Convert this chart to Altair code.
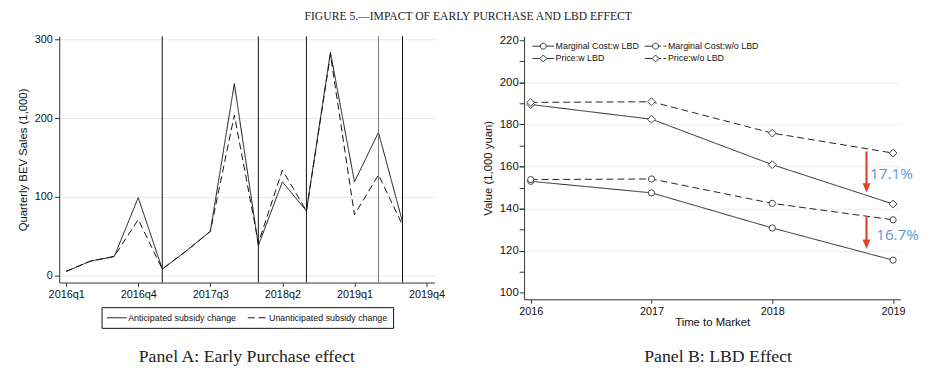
import altair as alt
import pandas as pd

# ---------------- Panel A data ----------------
quarters = ["2016q1", "2016q2", "2016q3", "2016q4", "2017q1", "2017q2", "2017q3",
            "2017q4", "2018q1", "2018q2", "2018q3", "2018q4", "2019q1", "2019q2", "2019q3"]
anticipated = [5, 18, 24, 99, 8, 31, 56, 244, 38, 119, 82, 284, 119, 182, 68]
unanticipated = [5, 18, 24, 71, 8, 31, 56, 204, 41, 134, 82, 281, 77, 128, 64]
series_a = ["Anticipated subsidy change", "Unanticipated subsidy change"]
policy_quarters = ["2017q1", "2018q1", "2018q3", "2019q2", "2019q3"]
policy_colors = ["#111111", "#111111", "#111111", "#777777", "#111111"]
x_tick_labels_a = ["2016q1", "2016q4", "2017q3", "2018q2", "2019q1", "2019q4"]
y_ticks_a = [0, 100, 200, 300]

# ---------------- Panel B data ----------------
years = [2016, 2017, 2018, 2019]
mc_w = [153.0, 147.5, 130.8, 115.5]
mc_wo = [153.8, 154.1, 142.5, 134.7]
price_w = [189.5, 182.5, 160.9, 142.2]
price_wo = [190.5, 190.8, 175.9, 166.4]
series_b = ["Marginal Cost:w LBD", "Marginal Cost:w/o LBD", "Price:w LBD", "Price:w/o LBD"]
y_major_b = [100, 120, 140, 160, 180, 200, 220]
y_minor_b = [110, 120, 130, 140, 150, 160, 170, 180, 190, 200, 210]

arrow_year = [2018.78, 2018.78]
arrow_top = [167.2, 136.2]
arrow_tip = [147.6, 120.8]
pct_labels = ["17.1%", "16.7%"]
pct_year = [2018.81, 2018.86]
pct_value = [156.2, 127.3]

FIG_TITLE = "FIGURE 5.\u2014IMPACT OF EARLY PURCHASE AND LBD EFFECT"
CAP_A = "Panel A: Early Purchase effect"
CAP_B = "Panel B: LBD Effect"


def js_list(items):
    return "[" + ",".join("'" + s + "'" for s in items) + "]"


# ---------------- Panel A ----------------
n = len(quarters)
df_a = pd.DataFrame({
    "q": list(range(n)) * 2,
    "quarter": quarters * 2,
    "sales": anticipated + unanticipated,
    "series": [series_a[0]] * n + [series_a[1]] * n,
})
df_rules = pd.DataFrame({"q": [quarters.index(p) for p in policy_quarters],
                         "shade": policy_colors})

tick_pos = [3 * i for i in range(len(x_tick_labels_a))]
xa = alt.X("q:Q", title=None,
           scale=alt.Scale(domain=[-0.29, 15.33], nice=False, zero=False),
           axis=alt.Axis(values=tick_pos,
                         labelExpr=js_list(x_tick_labels_a) + "[round(datum.value / 3)]",
                         grid=False, labelFlush=False, labelOverlap=False,
                         tickSize=4, labelPadding=2, labelFontSize=11))
ya = alt.Y("sales:Q", title="Quarterly BEV Sales (1,000)",
           scale=alt.Scale(domain=[-9.2, 304.3], nice=False, zero=False),
           axis=alt.Axis(values=y_ticks_a, grid=True, gridColor="#e8e8e8",
                         tickSize=5, labelPadding=2, titlePadding=6,
                         labelFontSize=11, titleFontSize=11.5))

lines_a = alt.Chart(df_a).mark_line(color="#111111", strokeWidth=1).encode(
    x=xa, y=ya,
    strokeDash=alt.StrokeDash(
        "series:N",
        scale=alt.Scale(domain=series_a, range=[[1, 0], [7, 4]]),
        legend=alt.Legend(orient="none", legendX=43, legendY=275, direction="horizontal",
                          title=None, symbolType="M-1,0L3,0", symbolSize=100,
                          symbolStrokeColor="#111111", symbolStrokeWidth=1,
                          labelOffset=11, labelFont="Liberation Sans",
                          labelFontSize=9, labelColor="#111111",
                          strokeColor="#111111", fillColor="white",
                          padding=5, columnPadding=9)),
)
rules_a = alt.Chart(df_rules).mark_rule(strokeWidth=1).encode(
    x=xa, color=alt.Color("shade:N", scale=None))

left = alt.layer(lines_a, rules_a).properties(
    width=381, height=250,
    title=alt.TitleParams(CAP_A, orient="bottom", font="Liberation Serif", fontSize=18,
                          fontWeight="normal", anchor="middle", frame="group",
                          offset=20, color="#222222"))

# ---------------- Panel B ----------------
kinds = ["mc", "mc", "price", "price"]
lbds = ["w", "wo", "w", "wo"]
vals = [mc_w, mc_wo, price_w, price_wo]
rows = []
for s, k, l, v in zip(series_b, kinds, lbds, vals):
    for yr, val in zip(years, v):
        rows.append({"year": yr, "value": val, "series": s, "kind": k, "lbd": l})
df_b = pd.DataFrame(rows)

df_arrow = pd.DataFrame({"year": arrow_year, "value": arrow_top, "tip": arrow_tip})
df_arrow["shaft_end"] = df_arrow["tip"] + 3.0
df_pct = pd.DataFrame({"year": pct_year, "value": pct_value, "label": pct_labels})

xb = alt.X("year:Q", title="Time to Market",
           scale=alt.Scale(domain=[2015.945, 2019.06], nice=False, zero=False),
           axis=alt.Axis(values=years, format="d", grid=False, tickSize=4,
                         labelPadding=2, titlePadding=1, labelFlush=False,
                         labelFontSize=11, titleFontSize=11.5))
yb = alt.Y("value:Q", title="Value (1,000 yuan)",
           scale=alt.Scale(domain=[96.9, 221.9], nice=False, zero=False),
           axis=alt.Axis(values=y_major_b, grid=False, tickSize=5, labelPadding=1,
                         titlePadding=6, labelFontSize=11.5, titleFontSize=11.5))

lines_b = alt.Chart(df_b).mark_line(color="#222222", strokeWidth=1).encode(
    x=xb, y=yb, detail="series:N",
    strokeDash=alt.StrokeDash("lbd:N", scale=alt.Scale(domain=["w", "wo"], range=[[1, 0], [7, 4]]),
                              legend=None))
circles = alt.Chart(df_b).transform_filter("datum.kind == 'mc'").mark_point(
    shape="circle", size=40, fill="white", fillOpacity=1, stroke="#444444",
    strokeWidth=1, opacity=1).encode(x=xb, y=yb)
diamonds = alt.Chart(df_b).transform_filter("datum.kind == 'price'").mark_point(
    shape="diamond", size=64, fill="white", fillOpacity=1, stroke="#444444",
    strokeWidth=1, opacity=1).encode(x=xb, y=yb)
shafts = alt.Chart(df_arrow).mark_rule(color="#e0452c", strokeWidth=2.2).encode(
    x=xb, y=yb, y2=alt.Y2("shaft_end:Q"))
heads = alt.Chart(df_arrow).mark_point(
    shape="M-1,-2.4L1,-2.4L0,0Z", size=64, filled=True, color="#e0452c", opacity=1
).encode(x=xb, y=alt.Y("tip:Q"))
pct_text = alt.Chart(df_pct).mark_text(
    align="left", baseline="middle", font="Open Sans", fontSize=15.5, color="#5b9bd5"
).encode(x=xb, y=yb, text="label:N")

main_b = alt.layer(lines_b, circles, diamonds, shafts, heads, pct_text)

circ = "M1.55,0A0.55,0.55,0,1,1,0.45,0A0.55,0.55,0,1,1,1.55,0Z"
diam = "M0.36,0L1,-0.64L1.64,0L1,0.64Z"
legend_paths = [
    "M-1,0L0.45,0M1.55,0L3,0" + circ,
    "M-1,0L0.45,0M1.55,0L2.05,0M2.45,0L3,0" + circ,
    "M-1,0L0.36,0M1.64,0L3,0" + diam,
    "M-1,0L0.36,0M1.64,0L2.05,0M2.45,0L3,0" + diam,
]
legend_layer = alt.Chart(df_b).mark_point(opacity=0, filled=False, color="#333333").encode(
    x=xb,
    y=alt.Y("value:Q",
            axis=alt.Axis(values=y_minor_b, labels=False, title=None, orient="left",
                          domain=False, tickSize=5, grid=True, gridColor="#ececec",
                          gridOpacity={"condition": {"test": "datum.value % 20 === 0", "value": 1},
                                       "value": 0})),
    shape=alt.Shape("series:N", scale=alt.Scale(domain=series_b, range=legend_paths),
                    legend=alt.Legend(orient="none", legendX=8, legendY=3.5, columns=2,
                                      direction="horizontal", title=None, symbolSize=121,
                                      symbolStrokeColor="#333333", symbolStrokeWidth=1,
                                      symbolOpacity=1, labelOffset=12, labelFontSize=9,
                                      labelColor="#111111", padding=0, columnPadding=3,
                                      rowPadding=1)),
)

right = alt.layer(main_b, legend_layer).resolve_axis(y="independent").properties(
    width=382, height=267,
    title=alt.TitleParams(CAP_B, orient="bottom", font="Liberation Serif", fontSize=18,
                          fontWeight="normal", anchor="middle", frame="group",
                          offset=20, color="#222222", dx=6))

chart = alt.hconcat(left, right, spacing=37).resolve_scale(
    strokeDash="independent", shape="independent"
).resolve_legend(
    strokeDash="independent", shape="independent"
).properties(
    title=alt.TitleParams(FIG_TITLE, font="Liberation Serif", fontSize=11.8,
                          fontWeight="normal", anchor="middle", offset=11, color="#222222"),
    padding={"left": 9, "top": 0, "right": 2, "bottom": 0},
).configure_view(stroke=None).configure_axis(
    labelFont="Liberation Sans", titleFont="Liberation Sans", labelColor="#111111",
    titleColor="#111111", domainColor="#333333", tickColor="#333333",
    titleFontWeight="normal")

chart.save("out.html", embed_options={"renderer": "svg", "actions": False})
